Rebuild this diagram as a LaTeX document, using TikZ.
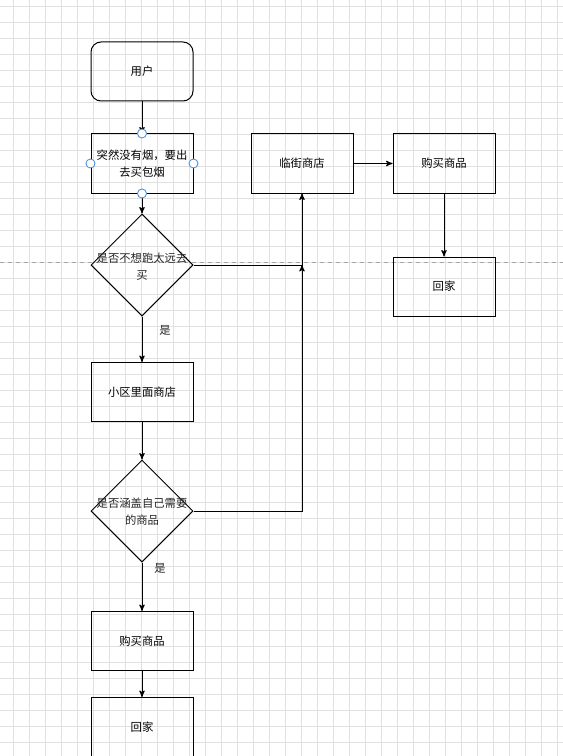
\documentclass[tikz,border=0pt]{standalone}
\usepackage{fontspec}
\setmainfont{Noto Sans CJK SC}
\usetikzlibrary{shapes.geometric}
\usetikzlibrary{arrows}
\definecolor{handleblue}{HTML}{3D8BD9}
\tikzset{
	flownode/.style = {
		align=center,
		inner sep=0pt,
		text centered,
		font=\fontsize{8.5}{12.75}\selectfont,
		draw=black,
		line width=0.75pt,
		anchor=center
	},
	node_start/.style = {
		flownode,
		rectangle,
		rounded corners=7.5pt,
		minimum width=76.5pt,
		minimum height=44.25pt
	},
	node_box/.style = {
		flownode,
		rectangle,
		minimum width=76.5pt,
		minimum height=44.25pt
	},
	node_cond/.style = {
		flownode,
		diamond,
		minimum width=76.5pt,
		minimum height=76.5pt
	},
	node_text/.style = {
		align=center,
		inner sep=0pt,
		text=black!85,
		font=\fontsize{8.5}{12.75}\selectfont
	},
	node_handle/.style = {
		draw=handleblue,
		fill=white,
		line width=0.6pt
	},
	grid_line/.style = {
		draw=black!12,
		line width=0.5pt
	},
	page_break/.style = {
		draw=black!35,
		dashed,
		line width=0.5pt
	},
}

\begin{document}
\begin{tikzpicture}[x=0.75pt,y=-0.75pt,->,>=stealth',line width=0.75pt]
\useasboundingbox (0,0) rectangle (563,756);
% background grid
\fill[white] (0,0) rectangle (563,756);
\foreach \gx in {13.3,29.3,...,563} {
	\draw[grid_line,-] (\gx,0) -- (\gx,756);
}
\foreach \gy in {6,22,...,756} {
	\draw[grid_line,-] (0,\gy) -- (563,\gy);
}
\draw[page_break,-] (0,262) -- (563,262);

% left column
\node [node_start] (n_user) at (142,71.5) {用户};
\node [node_box] (n_smoke) at (142,163.5) {突然没有烟，要出\\去买包烟};
\node [node_cond] (c_far) at (142,265) {};
\node [node_text] (t_far) at (142,266.5) {是否不想跑太远去\\买};
\node [node_box] (n_inner) at (142,392) {小区里面商店};
\node [node_cond] (c_need) at (142,511) {};
\node [node_text] (t_need) at (142,512) {是否涵盖自己需要\\的商品};
\node [node_box] (n_buy) at (142,641) {购买商品};
\node [node_box] (n_home) at (142,727) {回家};

% right columns
\node [node_box] (n_street) at (302,163.5) {临街商店};
\node [node_box] (n_buy2) at (444,163.5) {购买商品};
\node [node_box] (n_home2) at (444,286.5) {回家};

% labels
\node [node_text] (l_yes1) at (165,330) {是};
\node [node_text] (l_yes2) at (160,568) {是};

% connectors
\draw (n_user) -- (n_smoke);
\draw (n_smoke) -- (c_far);
\draw (c_far) -- (n_inner);
\draw (n_inner) -- (c_need);
\draw (c_need) -- (n_buy);
\draw (n_buy) -- (n_home);
\draw (c_far.east) -| (n_street.south);
\coordinate (j_far) at (n_street.south |- c_far.east);
\draw (c_need.east) -| (j_far);
\draw (n_street) -- (n_buy2);
\draw (n_buy2) -- (n_home2);

% selection handles
\foreach \a in {north,west,east,south} {
	\draw[node_handle,-] (n_smoke.\a) circle [radius=3.4pt];
}
\end{tikzpicture}
\end{document}
